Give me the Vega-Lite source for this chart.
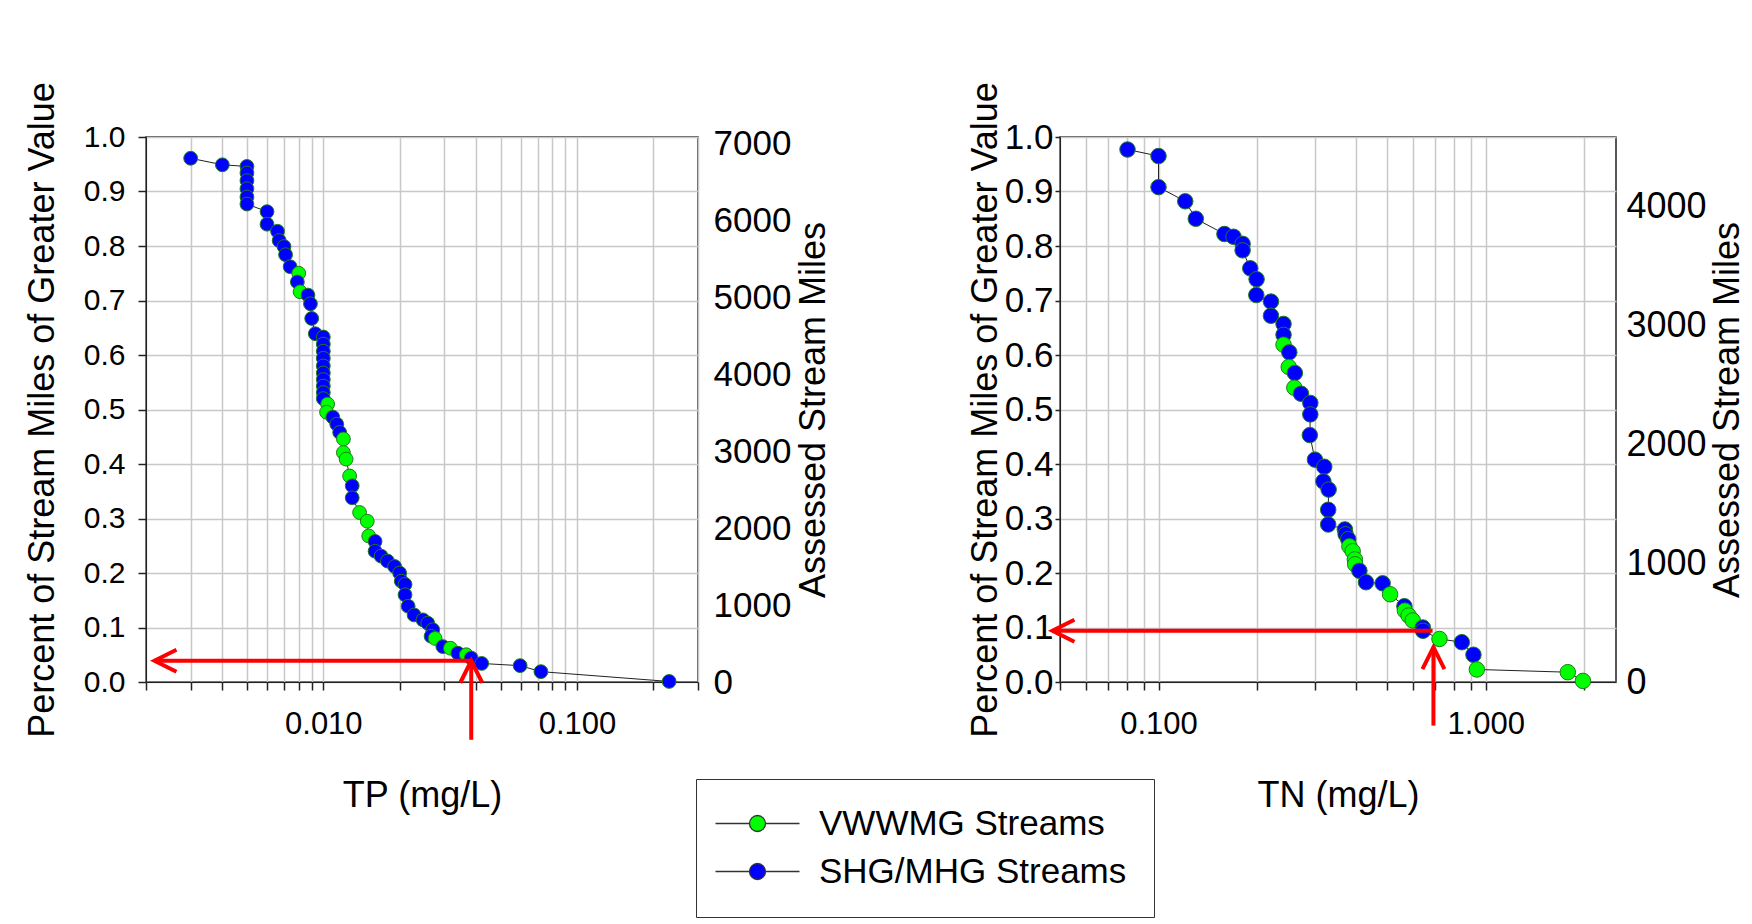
{
  "$schema": "https://vega.github.io/schema/vega-lite/v6.json",
  "background": "#ffffff",
  "padding": {"left": 23, "top": 80, "right": 5, "bottom": 5},
  "spacing": 133,
  "config": {
    "font": "Liberation Sans",
    "view": {"stroke": "#222222", "strokeWidth": 1.5},
    "axis": {
      "labelFont": "Liberation Sans", "titleFont": "Liberation Sans",
      "labelColor": "#000000", "titleColor": "#000000",
      "titleFontWeight": "normal", "labelFontSize": 30, "titleFontSize": 36,
      "gridColor": "#c8c8c8", "gridWidth": 1.5, "gridOpacity": 1,
      "domainColor": "#222222", "tickColor": "#222222", "tickWidth": 1.5,
      "labelOverlap": false, "labelFlush": false
    }
  },
  "datasets": {
    "tp": [
      {"x": 0.0030, "p": 0.961, "g": "SHG/MHG Streams"},
      {"x": 0.0040, "p": 0.949, "g": "SHG/MHG Streams"},
      {"x": 0.0050, "p": 0.946, "g": "SHG/MHG Streams"},
      {"x": 0.0050, "p": 0.934, "g": "SHG/MHG Streams"},
      {"x": 0.0050, "p": 0.920, "g": "SHG/MHG Streams"},
      {"x": 0.0050, "p": 0.905, "g": "SHG/MHG Streams"},
      {"x": 0.0050, "p": 0.890, "g": "SHG/MHG Streams"},
      {"x": 0.0050, "p": 0.877, "g": "SHG/MHG Streams"},
      {"x": 0.0060, "p": 0.863, "g": "SHG/MHG Streams"},
      {"x": 0.0060, "p": 0.840, "g": "SHG/MHG Streams"},
      {"x": 0.0066, "p": 0.827, "g": "SHG/MHG Streams"},
      {"x": 0.0067, "p": 0.810, "g": "SHG/MHG Streams"},
      {"x": 0.0070, "p": 0.799, "g": "SHG/MHG Streams"},
      {"x": 0.0071, "p": 0.784, "g": "SHG/MHG Streams"},
      {"x": 0.0074, "p": 0.762, "g": "SHG/MHG Streams"},
      {"x": 0.0080, "p": 0.750, "g": "VWWMG Streams"},
      {"x": 0.0079, "p": 0.734, "g": "SHG/MHG Streams"},
      {"x": 0.0081, "p": 0.716, "g": "VWWMG Streams"},
      {"x": 0.0087, "p": 0.710, "g": "SHG/MHG Streams"},
      {"x": 0.0089, "p": 0.694, "g": "SHG/MHG Streams"},
      {"x": 0.0090, "p": 0.667, "g": "SHG/MHG Streams"},
      {"x": 0.0093, "p": 0.639, "g": "SHG/MHG Streams"},
      {"x": 0.0100, "p": 0.633, "g": "SHG/MHG Streams"},
      {"x": 0.0100, "p": 0.620, "g": "SHG/MHG Streams"},
      {"x": 0.0100, "p": 0.607, "g": "SHG/MHG Streams"},
      {"x": 0.0100, "p": 0.594, "g": "SHG/MHG Streams"},
      {"x": 0.0100, "p": 0.580, "g": "SHG/MHG Streams"},
      {"x": 0.0100, "p": 0.567, "g": "SHG/MHG Streams"},
      {"x": 0.0100, "p": 0.555, "g": "SHG/MHG Streams"},
      {"x": 0.0100, "p": 0.543, "g": "SHG/MHG Streams"},
      {"x": 0.0100, "p": 0.531, "g": "SHG/MHG Streams"},
      {"x": 0.0100, "p": 0.520, "g": "SHG/MHG Streams"},
      {"x": 0.0104, "p": 0.510, "g": "VWWMG Streams"},
      {"x": 0.0103, "p": 0.495, "g": "VWWMG Streams"},
      {"x": 0.0109, "p": 0.486, "g": "SHG/MHG Streams"},
      {"x": 0.0113, "p": 0.473, "g": "SHG/MHG Streams"},
      {"x": 0.0116, "p": 0.458, "g": "SHG/MHG Streams"},
      {"x": 0.0120, "p": 0.446, "g": "VWWMG Streams"},
      {"x": 0.0120, "p": 0.421, "g": "VWWMG Streams"},
      {"x": 0.0123, "p": 0.409, "g": "VWWMG Streams"},
      {"x": 0.0127, "p": 0.378, "g": "VWWMG Streams"},
      {"x": 0.0130, "p": 0.360, "g": "SHG/MHG Streams"},
      {"x": 0.0130, "p": 0.338, "g": "SHG/MHG Streams"},
      {"x": 0.0139, "p": 0.311, "g": "VWWMG Streams"},
      {"x": 0.0149, "p": 0.295, "g": "VWWMG Streams"},
      {"x": 0.0151, "p": 0.268, "g": "VWWMG Streams"},
      {"x": 0.0160, "p": 0.258, "g": "SHG/MHG Streams"},
      {"x": 0.0160, "p": 0.240, "g": "SHG/MHG Streams"},
      {"x": 0.0169, "p": 0.231, "g": "SHG/MHG Streams"},
      {"x": 0.0179, "p": 0.222, "g": "SHG/MHG Streams"},
      {"x": 0.0191, "p": 0.212, "g": "SHG/MHG Streams"},
      {"x": 0.0200, "p": 0.200, "g": "SHG/MHG Streams"},
      {"x": 0.0203, "p": 0.185, "g": "SHG/MHG Streams"},
      {"x": 0.0210, "p": 0.179, "g": "SHG/MHG Streams"},
      {"x": 0.0210, "p": 0.160, "g": "SHG/MHG Streams"},
      {"x": 0.0216, "p": 0.139, "g": "SHG/MHG Streams"},
      {"x": 0.0228, "p": 0.123, "g": "SHG/MHG Streams"},
      {"x": 0.0247, "p": 0.114, "g": "SHG/MHG Streams"},
      {"x": 0.0258, "p": 0.108, "g": "SHG/MHG Streams"},
      {"x": 0.0270, "p": 0.096, "g": "SHG/MHG Streams"},
      {"x": 0.0266, "p": 0.084, "g": "SHG/MHG Streams"},
      {"x": 0.0276, "p": 0.080, "g": "VWWMG Streams"},
      {"x": 0.0296, "p": 0.065, "g": "SHG/MHG Streams"},
      {"x": 0.0317, "p": 0.062, "g": "VWWMG Streams"},
      {"x": 0.0339, "p": 0.053, "g": "SHG/MHG Streams"},
      {"x": 0.0366, "p": 0.050, "g": "VWWMG Streams"},
      {"x": 0.0383, "p": 0.044, "g": "SHG/MHG Streams"},
      {"x": 0.0421, "p": 0.034, "g": "SHG/MHG Streams"},
      {"x": 0.0597, "p": 0.030, "g": "SHG/MHG Streams"},
      {"x": 0.0721, "p": 0.019, "g": "SHG/MHG Streams"},
      {"x": 0.2309, "p": 0.001, "g": "SHG/MHG Streams"}
    ],
    "tn": [
      {"x": 0.0804, "p": 0.977, "g": "SHG/MHG Streams"},
      {"x": 0.1000, "p": 0.965, "g": "SHG/MHG Streams"},
      {"x": 0.1000, "p": 0.908, "g": "SHG/MHG Streams"},
      {"x": 0.1207, "p": 0.882, "g": "SHG/MHG Streams"},
      {"x": 0.1300, "p": 0.850, "g": "SHG/MHG Streams"},
      {"x": 0.1590, "p": 0.822, "g": "SHG/MHG Streams"},
      {"x": 0.1695, "p": 0.817, "g": "SHG/MHG Streams"},
      {"x": 0.1807, "p": 0.804, "g": "SHG/MHG Streams"},
      {"x": 0.1807, "p": 0.792, "g": "SHG/MHG Streams"},
      {"x": 0.1907, "p": 0.759, "g": "SHG/MHG Streams"},
      {"x": 0.1994, "p": 0.739, "g": "SHG/MHG Streams"},
      {"x": 0.1990, "p": 0.710, "g": "SHG/MHG Streams"},
      {"x": 0.2206, "p": 0.698, "g": "SHG/MHG Streams"},
      {"x": 0.2206, "p": 0.672, "g": "SHG/MHG Streams"},
      {"x": 0.2410, "p": 0.657, "g": "SHG/MHG Streams"},
      {"x": 0.2410, "p": 0.637, "g": "SHG/MHG Streams"},
      {"x": 0.2410, "p": 0.619, "g": "VWWMG Streams"},
      {"x": 0.2510, "p": 0.605, "g": "SHG/MHG Streams"},
      {"x": 0.2500, "p": 0.578, "g": "VWWMG Streams"},
      {"x": 0.2610, "p": 0.567, "g": "SHG/MHG Streams"},
      {"x": 0.2600, "p": 0.540, "g": "VWWMG Streams"},
      {"x": 0.2725, "p": 0.529, "g": "SHG/MHG Streams"},
      {"x": 0.2910, "p": 0.512, "g": "SHG/MHG Streams"},
      {"x": 0.2910, "p": 0.491, "g": "SHG/MHG Streams"},
      {"x": 0.2900, "p": 0.453, "g": "SHG/MHG Streams"},
      {"x": 0.3006, "p": 0.408, "g": "SHG/MHG Streams"},
      {"x": 0.3210, "p": 0.395, "g": "SHG/MHG Streams"},
      {"x": 0.3190, "p": 0.368, "g": "SHG/MHG Streams"},
      {"x": 0.3310, "p": 0.353, "g": "SHG/MHG Streams"},
      {"x": 0.3300, "p": 0.316, "g": "SHG/MHG Streams"},
      {"x": 0.3300, "p": 0.289, "g": "SHG/MHG Streams"},
      {"x": 0.3710, "p": 0.280, "g": "SHG/MHG Streams"},
      {"x": 0.3730, "p": 0.271, "g": "SHG/MHG Streams"},
      {"x": 0.3800, "p": 0.262, "g": "SHG/MHG Streams"},
      {"x": 0.3830, "p": 0.249, "g": "VWWMG Streams"},
      {"x": 0.3920, "p": 0.240, "g": "VWWMG Streams"},
      {"x": 0.3980, "p": 0.225, "g": "VWWMG Streams"},
      {"x": 0.3990, "p": 0.216, "g": "VWWMG Streams"},
      {"x": 0.4110, "p": 0.204, "g": "SHG/MHG Streams"},
      {"x": 0.4306, "p": 0.183, "g": "SHG/MHG Streams"},
      {"x": 0.4840, "p": 0.181, "g": "SHG/MHG Streams"},
      {"x": 0.5100, "p": 0.161, "g": "VWWMG Streams"},
      {"x": 0.5640, "p": 0.139, "g": "SHG/MHG Streams"},
      {"x": 0.5660, "p": 0.131, "g": "VWWMG Streams"},
      {"x": 0.5810, "p": 0.122, "g": "VWWMG Streams"},
      {"x": 0.5980, "p": 0.113, "g": "VWWMG Streams"},
      {"x": 0.6420, "p": 0.100, "g": "SHG/MHG Streams"},
      {"x": 0.6430, "p": 0.094, "g": "SHG/MHG Streams"},
      {"x": 0.7220, "p": 0.079, "g": "VWWMG Streams"},
      {"x": 0.8450, "p": 0.073, "g": "SHG/MHG Streams"},
      {"x": 0.9170, "p": 0.050, "g": "SHG/MHG Streams"},
      {"x": 0.9390, "p": 0.023, "g": "VWWMG Streams"},
      {"x": 1.7810, "p": 0.018, "g": "VWWMG Streams"},
      {"x": 1.9810, "p": 0.002, "g": "VWWMG Streams"}
    ],
    "tpArrowLines": [
      {"x": 0.00216, "x2": 0.0383, "p": 0.039, "p2": 0.039},
      {"x": 0.0383, "x2": 0.0383, "p": -0.106, "p2": 0.039}
    ],
    "tpArrowHeads": [
      {"x": 0.00216, "p": 0.039, "dir": "left"},
      {"x": 0.0383, "p": 0.039, "dir": "up"}
    ],
    "tnArrowLines": [
      {"x": 0.0474, "x2": 0.688, "p": 0.094, "p2": 0.094},
      {"x": 0.692, "x2": 0.692, "p": -0.080, "p2": 0.064}
    ],
    "tnArrowHeads": [
      {"x": 0.0474, "p": 0.094, "dir": "left"},
      {"x": 0.692, "p": 0.064, "dir": "up"}
    ],
    "tpMiles": [{"m": 0}, {"m": 7080}],
    "tnMiles": [{"m": 0}, {"m": 4580}]
  },
  "hconcat": [
    {
      "width": 552,
      "height": 545,
      "layer": [
        {
          "encoding": {
            "x": {
              "field": "x", "type": "quantitative",
              "scale": {"type": "log", "domain": [0.002, 0.3], "nice": false},
              "axis": {
                "title": "TP (mg/L)",
                "values": [0.002, 0.003, 0.004, 0.005, 0.006, 0.007, 0.008, 0.009, 0.01, 0.02, 0.03, 0.04, 0.05, 0.06, 0.07, 0.08, 0.09, 0.1, 0.2, 0.3],
                "labelExpr": "datum.value == 0.01 || datum.value == 0.1 ? format(datum.value, '.3f') : ''",
                "grid": true, "tickSize": 8, "labelPadding": 19, "labelFontSize": 31, "titlePadding": 39
              }
            },
            "y": {
              "field": "p", "type": "quantitative",
              "scale": {"domain": [0, 1], "nice": false, "zero": false},
              "axis": {
                "title": "Percent of Stream Miles of Greater Value",
                "values": [0, 0.1, 0.2, 0.3, 0.4, 0.5, 0.6, 0.7, 0.8, 0.9, 1],
                "format": ".1f", "grid": true, "tickSize": 8, "labelPadding": 13, "titlePadding": 22
              }
            }
          },
          "layer": [
            {
              "data": {"name": "tp"},
              "mark": {"type": "line", "color": "#222222", "strokeWidth": 1},
              "encoding": {"order": {"field": "p", "sort": "descending"}}
            },
            {
              "data": {"name": "tp"},
              "mark": {"type": "point", "filled": true, "size": 190, "stroke": "#1f7a1f", "strokeWidth": 1, "opacity": 1},
              "encoding": {
                "color": {
                  "field": "g", "type": "nominal",
                  "scale": {"domain": ["VWWMG Streams", "SHG/MHG Streams"], "range": ["#00ff00", "#0000ff"]},
                  "legend": {
                    "orient": "none", "legendX": 550, "legendY": 642, "direction": "vertical", "title": null,
                    "symbolType": "M-8.4,0L-1.6,0M1.6,0L8.4,0M-1.6,0A1.6,1.6,0,1,1,1.6,0A1.6,1.6,0,1,1,-1.6,0Z",
                    "symbolSize": 100, "symbolOffset": 17, "symbolStrokeColor": "#333333", "symbolStrokeWidth": 1.3,
                    "labelFontSize": 35, "labelFont": "Liberation Sans", "labelColor": "#000000", "labelLimit": 0,
                    "labelOffset": 44, "strokeColor": "#333333", "fillColor": "#ffffff",
                    "padding": 27, "rowPadding": 12
                  }
                }
              }
            },
            {
              "data": {"name": "tpArrowLines"},
              "mark": {"type": "rule", "color": "#ff0000", "strokeWidth": 4},
              "encoding": {"x2": {"field": "x2"}, "y2": {"field": "p2"}}
            },
            {
              "data": {"name": "tpArrowHeads"},
              "mark": {"type": "point", "filled": false, "stroke": "#ff0000", "strokeWidth": 4, "size": 484, "opacity": 1},
              "encoding": {
                "shape": {"field": "dir", "type": "nominal", "legend": null,
                  "scale": {"domain": ["left", "up"], "range": ["M2,-1L0,0L2,1", "M-1,2L0,0L1,2"]}}
              }
            }
          ]
        },
        {
          "data": {"name": "tpMiles"},
          "mark": {"type": "point", "opacity": 0},
          "encoding": {
            "y": {
              "field": "m", "type": "quantitative",
              "scale": {"domain": [0, 7080], "nice": false},
              "axis": {
                "orient": "right", "title": "Assessed Stream Miles",
                "values": [0, 1000, 2000, 3000, 4000, 5000, 6000, 7000], "format": "d",
                "grid": false, "ticks": false, "tickSize": 0, "domain": false, "labelPadding": 15, "labelFontSize": 35,
                "titleAngle": 270, "titleBaseline": "top", "titlePadding": 6
              }
            }
          }
        }
      ],
      "resolve": {"scale": {"y": "independent"}}
    },
    {
      "width": 556,
      "height": 545,
      "layer": [
        {
          "encoding": {
            "x": {
              "field": "x", "type": "quantitative",
              "scale": {"type": "log", "domain": [0.05, 2.5], "nice": false},
              "axis": {
                "title": "TN (mg/L)",
                "values": [0.05, 0.06, 0.07, 0.08, 0.09, 0.1, 0.2, 0.3, 0.4, 0.5, 0.6, 0.7, 0.8, 0.9, 1, 2],
                "labelExpr": "datum.value == 0.1 || datum.value == 1 ? format(datum.value, '.3f') : ''",
                "grid": true, "tickSize": 8, "labelPadding": 19, "labelFontSize": 31, "titlePadding": 39
              }
            },
            "y": {
              "field": "p", "type": "quantitative",
              "scale": {"domain": [0, 1], "nice": false, "zero": false},
              "axis": {
                "title": "Percent of Stream Miles of Greater Value",
                "values": [0, 0.1, 0.2, 0.3, 0.4, 0.5, 0.6, 0.7, 0.8, 0.9, 1],
                "format": ".1f", "grid": true, "tickSize": 5, "labelPadding": 2, "labelFontSize": 35, "titlePadding": 0
              }
            }
          },
          "layer": [
            {
              "data": {"name": "tn"},
              "mark": {"type": "line", "color": "#222222", "strokeWidth": 1},
              "encoding": {"order": {"field": "p", "sort": "descending"}}
            },
            {
              "data": {"name": "tn"},
              "mark": {"type": "point", "filled": true, "size": 240, "stroke": "#1f7a1f", "strokeWidth": 1, "opacity": 1},
              "encoding": {
                "color": {
                  "field": "g", "type": "nominal",
                  "scale": {"domain": ["VWWMG Streams", "SHG/MHG Streams"], "range": ["#00ff00", "#0000ff"]}
                }
              }
            },
            {
              "data": {"name": "tnArrowLines"},
              "mark": {"type": "rule", "color": "#ff0000", "strokeWidth": 4},
              "encoding": {"x2": {"field": "x2"}, "y2": {"field": "p2"}}
            },
            {
              "data": {"name": "tnArrowHeads"},
              "mark": {"type": "point", "filled": false, "stroke": "#ff0000", "strokeWidth": 4, "size": 484, "opacity": 1},
              "encoding": {
                "shape": {"field": "dir", "type": "nominal", "legend": null,
                  "scale": {"domain": ["left", "up"], "range": ["M2,-1L0,0L2,1", "M-1,2L0,0L1,2"]}}
              }
            }
          ]
        },
        {
          "data": {"name": "tnMiles"},
          "mark": {"type": "point", "opacity": 0},
          "encoding": {
            "y": {
              "field": "m", "type": "quantitative",
              "scale": {"domain": [0, 4580], "nice": false},
              "axis": {
                "orient": "right", "title": "Assessed Stream Miles",
                "values": [0, 1000, 2000, 3000, 4000], "format": "d",
                "grid": false, "ticks": false, "tickSize": 0, "domain": false, "labelPadding": 10, "labelFontSize": 36,
                "titleAngle": 270, "titleBaseline": "top", "titlePadding": 4
              }
            }
          }
        }
      ],
      "resolve": {"scale": {"y": "independent"}}
    }
  ]
}
